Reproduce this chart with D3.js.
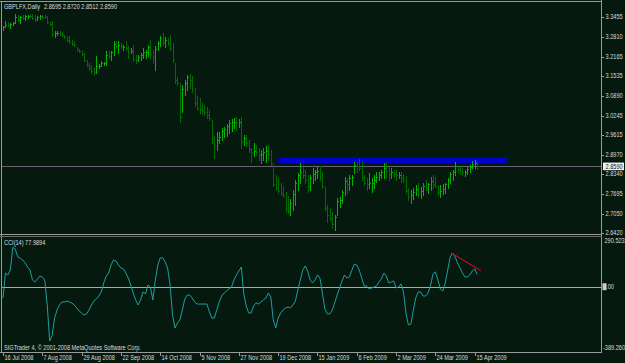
<!DOCTYPE html>
<html>
<head>
<meta charset="utf-8">
<script src="https://cdn.jsdelivr.net/npm/d3@7"></script>
<style>
  body { margin: 0; background: #05190f; }
  svg { display: block; }
  text { font-family: "Liberation Sans", Arial, sans-serif; }
</style>
</head>
<body>
<svg id="chart"></svg>
<script>
// GBPLFX daily bars, 16 Jul 2008 - Apr 2009
const highs = [
  3.316,3.332,3.329,3.326,3.329,3.355,3.352,3.349,3.352,3.352,
  3.352,3.355,3.355,3.352,3.349,3.352,3.352,3.352,3.349,3.329,
  3.332,3.300,3.300,3.300,3.297,3.287,3.284,3.284,3.271,3.267,
  3.248,3.241,3.238,3.228,3.205,3.196,3.189,3.183,3.218,3.192,
  3.202,3.199,3.235,3.235,3.235,3.267,3.267,3.267,3.261,3.254,
  3.267,3.251,3.245,3.254,3.222,3.222,3.228,3.245,3.238,3.254,
  3.271,3.238,3.251,3.267,3.284,3.293,3.280,3.277,3.287,3.261,
  3.196,3.150,3.131,3.124,3.140,3.157,3.160,3.153,3.114,3.088,
  3.082,3.065,3.059,3.052,3.043,3.010,2.958,2.971,2.971,2.984,
  2.987,2.997,3.010,3.013,3.017,3.020,3.013,3.020,2.961,2.961,
  2.945,2.919,2.935,2.929,2.919,2.912,2.919,2.925,2.925,2.912,
  2.867,2.831,2.821,2.805,2.795,2.776,2.763,2.753,2.782,2.815,
  2.837,2.870,2.863,2.847,2.831,2.831,2.854,2.847,2.857,2.860,
  2.841,2.792,2.733,2.723,2.710,2.701,2.756,2.759,2.782,2.824,
  2.821,2.831,2.831,2.873,2.873,2.883,2.873,2.831,2.821,2.837,
  2.821,2.831,2.841,2.841,2.847,2.870,2.873,2.857,2.854,2.847,
  2.847,2.841,2.841,2.834,2.828,2.789,2.782,2.789,2.798,2.805,
  2.792,2.805,2.815,2.805,2.824,2.831,2.824,2.798,2.798,2.802,
  2.805,2.821,2.841,2.847,2.873,2.863,2.857,2.854,2.847,2.857,
  2.863,2.876,2.880,2.872
]
const lows = [
  3.303,3.313,3.316,3.310,3.319,3.326,3.332,3.326,3.339,3.336,
  3.342,3.346,3.339,3.332,3.336,3.339,3.342,3.342,3.326,3.319,
  3.284,3.280,3.287,3.287,3.284,3.277,3.267,3.261,3.254,3.251,
  3.235,3.232,3.222,3.202,3.186,3.173,3.163,3.157,3.163,3.179,
  3.186,3.189,3.189,3.212,3.205,3.222,3.245,3.228,3.245,3.238,
  3.238,3.212,3.228,3.202,3.196,3.202,3.205,3.212,3.212,3.218,
  3.212,3.196,3.173,3.238,3.251,3.254,3.248,3.254,3.238,3.199,
  3.131,3.124,3.003,3.036,3.091,3.108,3.114,3.101,3.056,3.043,
  3.033,3.030,3.026,3.017,3.010,2.935,2.886,2.912,2.935,2.945,
  2.955,2.958,2.968,2.974,2.984,2.977,2.987,2.919,2.929,2.925,
  2.906,2.873,2.893,2.896,2.880,2.870,2.880,2.873,2.880,2.863,
  2.795,2.782,2.772,2.766,2.759,2.710,2.707,2.701,2.717,2.733,
  2.782,2.805,2.821,2.805,2.776,2.782,2.805,2.815,2.821,2.815,
  2.789,2.717,2.678,2.684,2.658,2.652,2.701,2.727,2.740,2.766,
  2.772,2.782,2.798,2.837,2.841,2.847,2.815,2.798,2.782,2.789,
  2.776,2.789,2.808,2.815,2.821,2.821,2.824,2.815,2.821,2.824,
  2.815,2.821,2.808,2.808,2.772,2.749,2.740,2.753,2.766,2.759,
  2.756,2.766,2.782,2.772,2.782,2.789,2.792,2.766,2.759,2.769,
  2.772,2.789,2.805,2.815,2.831,2.841,2.834,2.831,2.828,2.834,
  2.841,2.854,2.854,2.851
]
const opens = [
  3.306,3.313,3.320,3.319,3.323,3.327,3.345,3.337,3.345,3.342,
  3.348,3.350,3.348,3.341,3.340,3.346,3.348,3.346,3.345,3.329,
  3.322,3.290,3.293,3.295,3.291,3.287,3.279,3.272,3.266,3.258,
  3.248,3.240,3.236,3.226,3.205,3.190,3.178,3.168,3.165,3.185,
  3.186,3.196,3.196,3.222,3.220,3.230,3.258,3.250,3.255,3.248,
  3.248,3.245,3.230,3.235,3.210,3.205,3.215,3.222,3.230,3.232,
  3.248,3.225,3.215,3.240,3.262,3.276,3.265,3.270,3.262,3.245,
  3.196,3.140,3.130,3.036,3.110,3.130,3.150,3.140,3.110,3.065,
  3.050,3.045,3.040,3.035,3.025,3.010,2.950,2.930,2.945,2.955,
  2.975,2.980,2.990,3.000,3.005,3.005,3.000,3.005,2.940,2.950,
  2.935,2.915,2.905,2.910,2.905,2.895,2.900,2.905,2.910,2.900,
  2.867,2.800,2.790,2.780,2.772,2.765,2.720,2.715,2.740,2.770,
  2.805,2.830,2.840,2.830,2.815,2.795,2.820,2.835,2.840,2.845,
  2.825,2.792,2.725,2.700,2.690,2.670,2.701,2.745,2.750,2.775,
  2.810,2.800,2.820,2.837,2.865,2.860,2.855,2.825,2.805,2.800,
  2.805,2.805,2.815,2.825,2.830,2.840,2.855,2.845,2.835,2.840,
  2.835,2.830,2.830,2.820,2.815,2.780,2.760,2.765,2.775,2.785,
  2.770,2.780,2.795,2.790,2.800,2.810,2.800,2.795,2.775,2.780,
  2.785,2.800,2.815,2.835,2.840,2.860,2.850,2.845,2.840,2.842,
  2.850,2.858,2.868,2.8695
]
const closes = [
  3.313,3.320,3.319,3.323,3.327,3.345,3.337,3.345,3.342,3.348,
  3.350,3.348,3.341,3.340,3.346,3.348,3.346,3.345,3.330,3.322,
  3.290,3.293,3.295,3.291,3.287,3.279,3.272,3.266,3.258,3.253,
  3.240,3.236,3.226,3.205,3.190,3.178,3.168,3.165,3.185,3.186,
  3.196,3.196,3.222,3.220,3.230,3.258,3.250,3.255,3.250,3.248,
  3.245,3.230,3.235,3.210,3.205,3.215,3.222,3.230,3.232,3.248,
  3.225,3.215,3.240,3.262,3.276,3.265,3.270,3.262,3.245,3.205,
  3.140,3.130,3.020,3.110,3.130,3.150,3.140,3.110,3.065,3.050,
  3.045,3.040,3.035,3.025,3.015,2.950,2.930,2.945,2.955,2.975,
  2.980,2.990,3.000,3.005,3.005,3.000,3.005,2.940,2.950,2.935,
  2.915,2.905,2.910,2.905,2.895,2.900,2.905,2.910,2.900,2.870,
  2.800,2.790,2.780,2.772,2.765,2.720,2.715,2.740,2.770,2.805,
  2.830,2.840,2.830,2.815,2.795,2.820,2.835,2.840,2.845,2.825,
  2.795,2.725,2.700,2.690,2.670,2.695,2.745,2.750,2.775,2.810,
  2.800,2.820,2.825,2.865,2.860,2.855,2.825,2.805,2.800,2.805,
  2.805,2.815,2.825,2.830,2.840,2.855,2.845,2.835,2.840,2.835,
  2.830,2.830,2.820,2.815,2.780,2.760,2.765,2.775,2.785,2.770,
  2.780,2.795,2.790,2.800,2.810,2.800,2.795,2.775,2.780,2.785,
  2.800,2.815,2.835,2.840,2.860,2.850,2.845,2.840,2.842,2.850,
  2.858,2.868,2.870,2.859
]
// CCI(14) per bar
const cci = [
  -72,87,75,106,250,240,189,182,170,151,
  125,106,43,30,49,68,62,43,-116,-345,
  -310,-199,-148,-116,-97,-97,-91,-97,-103,-116,
  -135,-154,-167,-180,-173,-148,-116,-91,-78,-59,
  -33,24,68,87,138,170,163,138,119,113,
  87,55,11,-40,-84,-116,-84,-33,-46,11,
  -2,-84,43,138,183,183,157,119,11,-180,
  -262,-230,-211,-148,-78,-53,-53,-72,-97,-110,
  -110,-110,-110,-110,-160,-199,-199,-148,-97,-59,
  -40,-27,-14,-2,43,75,100,125,-46,-122,
  -167,-167,-122,-103,-110,-97,-84,-72,-40,-65,
  -211,-262,-199,-167,-148,-135,-129,-135,-116,-91,
  -21,43,106,132,100,43,24,43,75,55,
  -40,-141,-173,-173,-148,-103,-53,-8,37,75,
  55,62,106,144,138,106,55,5,5,-14,
  -8,-2,5,30,49,87,68,24,30,37,
  -8,-2,18,-33,-167,-243,-237,-148,-72,-33,
  -33,-59,-59,-40,5,81,94,43,-14,-27,
  24,106,189,214,189,151,119,87,62,62,
  75,100,113,78
]

const priceTicks = [3.3455, 3.2810, 3.2165, 3.1535, 3.0890, 3.0245, 2.9615, 2.8970, 2.8340, 2.7695, 2.7050, 2.6420]
const dateLabels = ['16 Jul 2008', '7 Aug 2008', '29 Aug 2008', '22 Sep 2008', '14 Oct 2008', '5 Nov 2008',
  '27 Nov 2008', '19 Dec 2008', '15 Jan 2009', '6 Feb 2009', '2 Mar 2009', '24 Mar 2009', '15 Apr 2009']
const dateIndex = [0, 16, 32, 48, 64, 80, 96, 112, 128, 144, 160, 176, 192]

const bidPrice = 2.8590
const zone = { from: 112, to: 205, low: 2.8700, high: 2.8895 }
const cciTrend = [[182.3, 216], [194.5, 102]]
const cciRange = [-389.26, 290.523]

const W = 625, H = 363
const BG = '#05190f'
const FRAME = '#9a9a9a'
const TXT = '#dcdcdc'

const x = d3.scaleLinear().domain([0, highs.length - 1]).range([3, 477.2])
const y = d3.scaleLinear().domain([2.6420, 3.3455]).range([233, 17])
const yc = d3.scaleLinear().domain(cciRange).range([348, 241])

const svg = d3.select('#chart').attr('width', W).attr('height', H)
svg.append('rect').attr('width', W).attr('height', H).attr('fill', BG)

function txt(parent, tx, ty, s, fill = TXT) {
  return parent.append('text')
    .attr('transform', `translate(${tx},${ty}) scale(0.8,1)`)
    .attr('font-size', 7)
    .attr('dy', '0.35em')
    .attr('fill', fill)
    .text(s)
}

const px = i => Math.round(x(i)) + 0.5

// resistance zone (drawn object)
svg.append('rect')
  .attr('x', x(zone.from)).attr('width', x(zone.to) - x(zone.from))
  .attr('y', y(zone.high)).attr('height', y(zone.low) - y(zone.high))
  .attr('fill', '#0000cd')

// bid line
svg.append('line')
  .attr('x1', 2).attr('x2', 601).attr('y1', Math.round(y(bidPrice)) + 0.5).attr('y2', Math.round(y(bidPrice)) + 0.5)
  .attr('stroke', '#6a6070').attr('stroke-width', 1)

// OHLC bars
const bars = svg.append('g').attr('shape-rendering', 'crispEdges')
const idx = d3.range(highs.length)
const barColor = i => closes[i] >= opens[i] ? '#00b400' : '#006c00'
bars.selectAll('line.hl').data(idx).enter().append('line')
  .attr('x1', px).attr('x2', px)
  .attr('y1', i => y(highs[i])).attr('y2', i => y(lows[i]) + 1)
  .attr('stroke', barColor)
bars.selectAll('line.op').data(idx).enter().append('line')
  .attr('x1', i => px(i) - 1).attr('x2', i => px(i))
  .attr('y1', i => Math.round(y(opens[i])) + 0.5).attr('y2', i => Math.round(y(opens[i])) + 0.5)
  .attr('stroke', barColor)
bars.selectAll('line.cl').data(idx).enter().append('line')
  .attr('x1', i => px(i)).attr('x2', i => px(i) + 1.5)
  .attr('y1', i => Math.round(y(closes[i])) + 0.5).attr('y2', i => Math.round(y(closes[i])) + 0.5)
  .attr('stroke', barColor)

// CCI zero line and curve
svg.append('line')
  .attr('x1', 2).attr('x2', 601).attr('y1', Math.round(yc(0)) + 0.5).attr('y2', Math.round(yc(0)) + 0.5)
  .attr('stroke', '#b8aa94').attr('stroke-width', 1)

svg.append('path')
  .datum(cci)
  .attr('d', d3.line().x((d, i) => x(i)).y(d => yc(d)))
  .attr('fill', 'none').attr('stroke', '#1f9ea2').attr('stroke-width', 1)

svg.append('line')
  .attr('x1', x(cciTrend[0][0])).attr('y1', yc(cciTrend[0][1]))
  .attr('x2', x(cciTrend[1][0])).attr('y2', yc(cciTrend[1][1]))
  .attr('stroke', '#b0102a').attr('stroke-width', 1.2)

// frame
const frame = svg.append('g').attr('stroke', FRAME).attr('shape-rendering', 'crispEdges')
frame.append('line').attr('x1', 0).attr('x2', 602).attr('y1', 1.5).attr('y2', 1.5)
frame.append('line').attr('x1', 1.5).attr('x2', 1.5).attr('y1', 1).attr('y2', 352)
frame.append('line').attr('x1', 601.5).attr('x2', 601.5).attr('y1', 0).attr('y2', 353)
frame.append('line').attr('x1', 0).attr('x2', 602).attr('y1', 234.5).attr('y2', 234.5)
frame.append('line').attr('x1', 0).attr('x2', 602).attr('y1', 236.5).attr('y2', 236.5).attr('stroke', '#6c6c6c')
frame.append('line').attr('x1', 0).attr('x2', 602).attr('y1', 352.5).attr('y2', 352.5)

// price axis
const yAxis = svg.append('g')
priceTicks.forEach(p => {
  yAxis.append('line').attr('x1', 601).attr('x2', 604).attr('y1', Math.round(y(p)) + 0.5).attr('y2', Math.round(y(p)) + 0.5)
    .attr('stroke', FRAME)
  txt(yAxis, 605.5, y(p), p.toFixed(4))
})
yAxis.append('rect').attr('x', 603).attr('y', y(bidPrice) - 3.8).attr('width', 21).attr('height', 7.6).attr('fill', '#f0f0f0')
txt(yAxis, 605.5, y(bidPrice), bidPrice.toFixed(4), '#101010')

// CCI axis
txt(svg, 604.5, yc(cciRange[1]), cciRange[1].toFixed(3))
txt(svg, 603, yc(cciRange[0]), cciRange[0].toFixed(3))
svg.append('rect').attr('x', 602.5).attr('y', yc(0) - 3.5).attr('width', 4).attr('height', 7).attr('fill', '#c8c8c8')
txt(svg, 603, yc(0), '0.00')

// date axis
const xAxis = svg.append('g')
dateLabels.forEach((s, k) => {
  const xi = px(dateIndex[k])
  xAxis.append('line').attr('x1', xi).attr('x2', xi).attr('y1', 352).attr('y2', 356).attr('stroke', FRAME)
  txt(xAxis, xi + 1, 358, s)
})

// captions
txt(svg, 4, 6.5, 'GBPLFX,Daily')
txt(svg, 44, 6.5, `${opens[opens.length - 1].toFixed(4)} 2.8720 2.8512 ${bidPrice.toFixed(4)}`)
txt(svg, 4, 243, 'CCI(14) 77.9894')
txt(svg, 4, 347.5, 'SIGTrader 4, \u00a9 2001-2008 MetaQuotes Software Corp.')
</script>
</body>
</html>
